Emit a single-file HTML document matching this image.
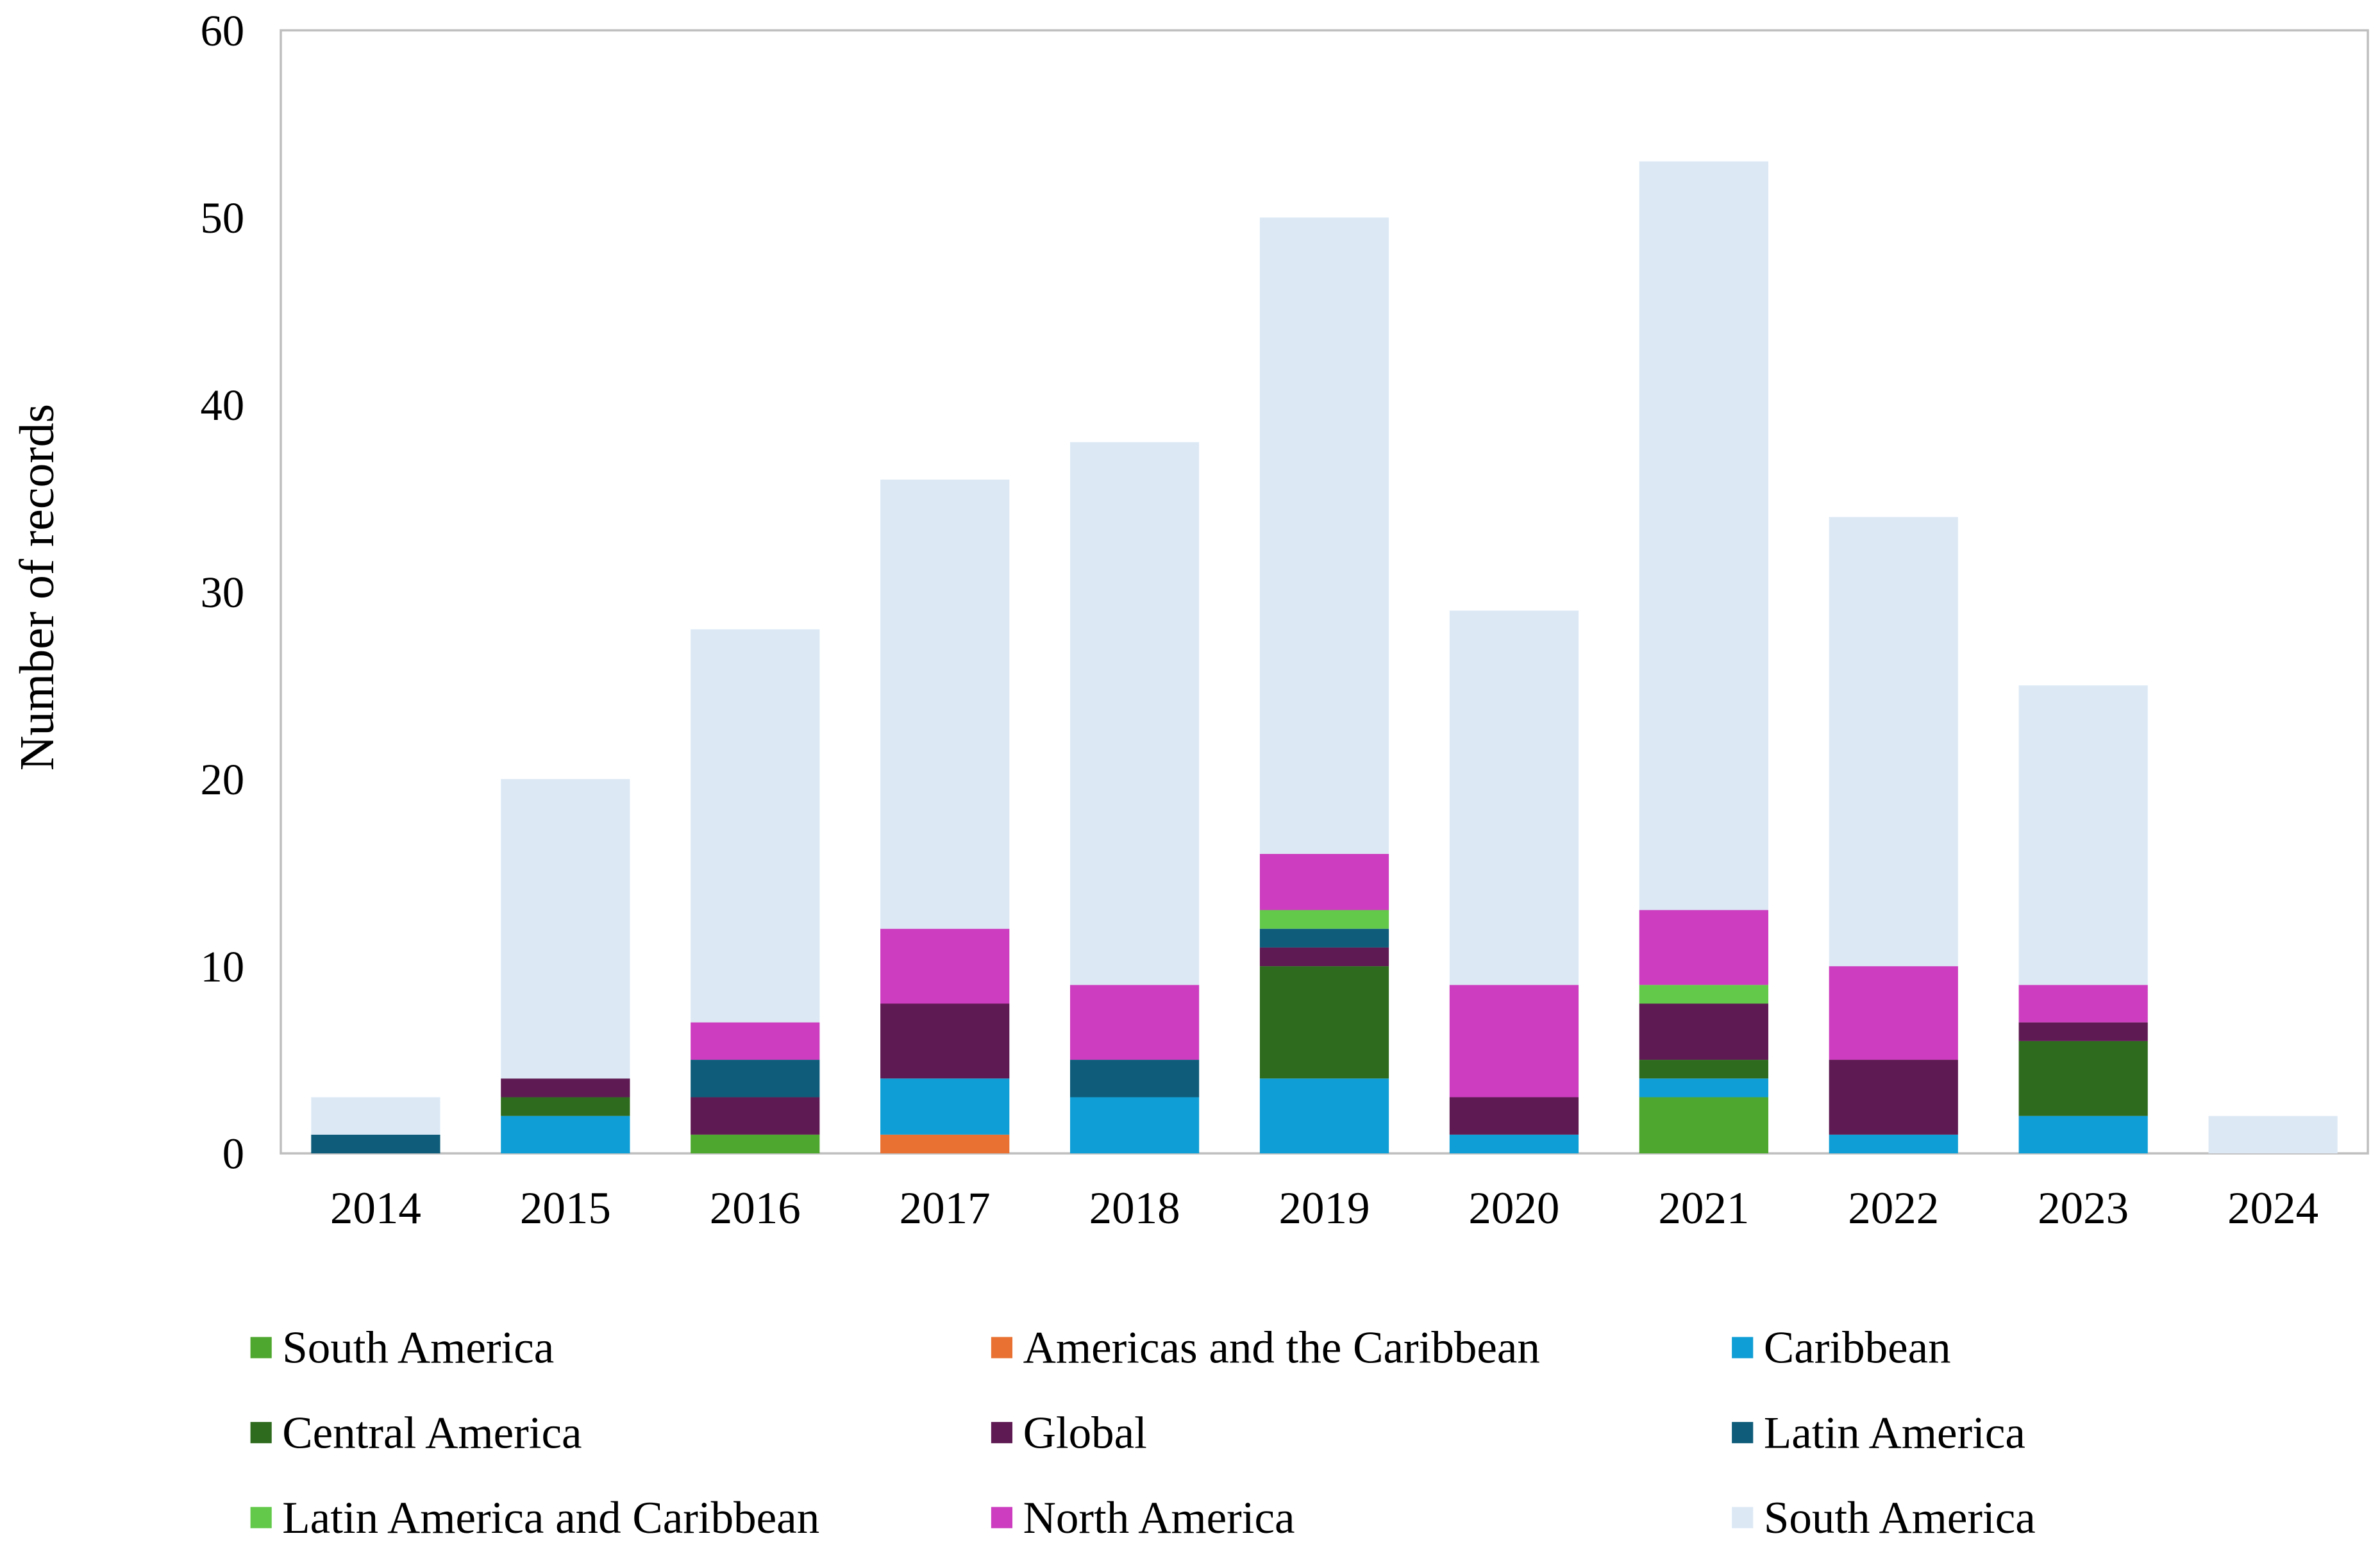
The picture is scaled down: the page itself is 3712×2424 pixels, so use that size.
<!DOCTYPE html>
<html><head><meta charset="utf-8"><style>
html,body{margin:0;padding:0;background:#fff}
svg{display:block}
text{font-family:"Liberation Serif",serif;fill:#000}
</style></head><body>
<svg id="chart" width="3712" height="2424" viewBox="0 0 1568 1024" preserveAspectRatio="none" xmlns="http://www.w3.org/2000/svg">
<rect x="0" y="0" width="1568" height="1024" fill="#fff"/>
<g id="plot"></g>
<g id="legend"></g>
</svg>
<script>
const years = ["2014","2015","2016","2017","2018","2019","2020","2021","2022","2023","2024"];
const seriesNames = ["South America","Americas and the Caribbean","Caribbean","Central America","Global","Latin America","Latin America and Caribbean","North America","South America"];
const seriesColors = ["#4EA72E","#E97132","#0F9ED5","#2E6B1E","#5E1A52","#0E5C7A","#62C94A","#CC3DBF","#DCE9F5"];
const sSouthAmericaGreen = [0,0,1,0,0,0,0,3,0,0,0];
const sAmericasCarib = [0,0,0,1,0,0,0,0,0,0,0];
const sCaribbean = [0,2,0,3,3,4,1,1,1,2,0];
const sCentralAmerica = [0,1,0,0,0,6,0,1,0,4,0];
const sGlobal = [0,1,2,4,0,1,2,3,4,1,0];
const sLatinAmerica = [1,0,2,0,2,1,0,0,0,0,0];
const sLAC = [0,0,0,0,0,1,0,1,0,0,0];
const sNorthAmerica = [0,0,2,4,4,3,6,4,5,2,0];
const sSouthAmerica = [2,16,21,24,29,34,20,40,24,16,2];
const yTicks = [0,10,20,30,40,50,60];
const series = [sSouthAmericaGreen,sAmericasCarib,sCaribbean,sCentralAmerica,sGlobal,sLatinAmerica,sLAC,sNorthAmerica,sSouthAmerica];

const NS="http://www.w3.org/2000/svg";
const plot=document.getElementById('plot');
const L=185,R=1560,T=20,B=760,yMax=60;
const y=v=>B-(v/yMax)*(B-T);
const step=(R-L)/years.length;
const xc=i=>L+step*(i+0.5);
const bw=85;
function mk(tag,attrs,parent){const e=document.createElementNS(NS,tag);for(const k in attrs)e.setAttribute(k,attrs[k]);parent.appendChild(e);return e;}

const frame=mk('rect',{x:L,y:T,width:R-L,height:B-T,fill:'none',stroke:'#bfbfbf','stroke-width':1.5},plot);



yTicks.forEach(t=>{
  const tx=mk('text',{x:161,y:y(t)+10,'text-anchor':'end','font-size':29},plot);
  tx.textContent=t;
  
  
});
const yt=mk('text',{x:0,y:0,'text-anchor':'middle','font-size':32,transform:'translate(35,387) rotate(-90)'},plot);
yt.textContent='Number of records';



years.forEach((yr,i)=>{
  let acc=0;
  series.forEach((s,j)=>{
    const v=s[i]; if(!v){return;}
    const r=mk('rect',{x:xc(i)-bw/2,y:y(acc+v),width:bw,height:y(acc)-y(acc+v),fill:seriesColors[j]},plot);
    
    
    acc+=v;
  });
  const tx=mk('text',{x:xc(i),y:806,'text-anchor':'middle','font-size':30},plot);
  tx.textContent=yr;
  
  
});

const lg=document.getElementById('legend');
const colX=[165,653,1141],rowY=[888,944,1000];
seriesNames.forEach((n,k)=>{
  const cx=colX[k%3],cy=rowY[Math.floor(k/3)];
  const g=mk('g',{},lg);
  
  
  mk('rect',{x:cx,y:cy-7,width:14,height:14,fill:seriesColors[k]},g);
  const t=mk('text',{x:cx+21,y:cy+10,'font-size':30},g);
  t.textContent=n;
});
</script>
</body></html>
